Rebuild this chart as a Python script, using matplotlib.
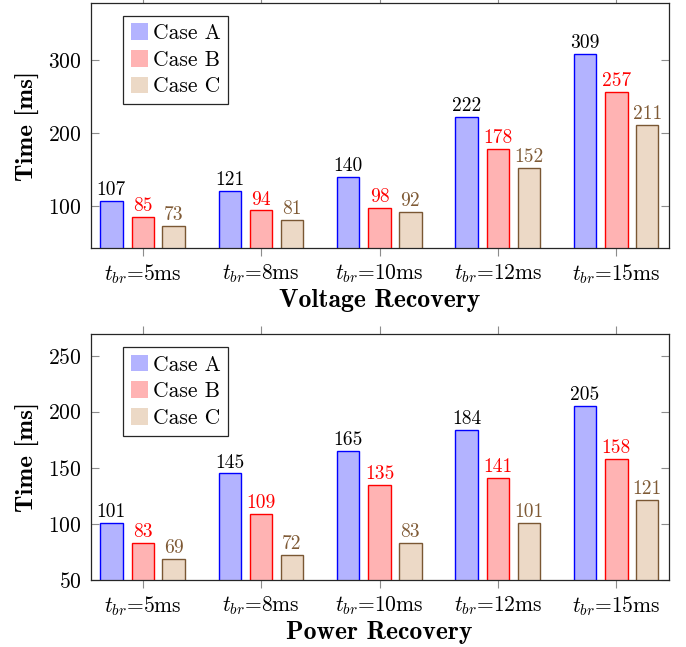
import numpy as np
import matplotlib
matplotlib.use("Agg")
import matplotlib.pyplot as plt

plt.rcParams['font.family'] = 'cmr10'
plt.rcParams['mathtext.fontset'] = 'cm'
plt.rcParams['axes.formatter.use_mathtext'] = True

categories = ['$t_{br}$=5ms', '$t_{br}$=8ms', '$t_{br}$=10ms', '$t_{br}$=12ms', '$t_{br}$=15ms']
cases = ['Case A', 'Case B', 'Case C']
voltage = [[107, 121, 140, 222, 309],
           [85, 94, 98, 178, 257],
           [73, 81, 92, 152, 211]]
power = [[101, 145, 165, 184, 205],
         [83, 109, 135, 141, 158],
         [69, 72, 83, 101, 121]]

fills = ['#b3b3ff', '#ffb3b3', '#ecd9c6']
edges = ['#0000ff', '#ff0000', '#7a5733']
label_colors = ['black', '#ff0000', '#7f5a35']
offsets = [-0.265, 0.0, 0.26]

fig = plt.figure(figsize=(6.86, 6.47), dpi=100)
ax1 = fig.add_axes([0.1322, 0.6162, 0.8423, 0.3792])
ax2 = fig.add_axes([0.1322, 0.1036, 0.8423, 0.3797])

x = np.arange(len(categories))


def draw(ax, data, ylim, yticks, xlabel):
    for i, vals in enumerate(data):
        ax.bar(x + offsets[i], vals, width=0.19, color=fills[i], edgecolor=edges[i],
               linewidth=1.0, label=cases[i], zorder=2)
        for xi, v in zip(x, vals):
            ax.annotate(str(v), (xi + offsets[i], v), xytext=(0, 4.2), textcoords='offset points',
                        ha='center', va='baseline', fontsize=14, color=label_colors[i])
    ax.set_xlim(-0.44, 4.44)
    ax.set_ylim(*ylim)
    ax.set_yticks(yticks)
    ax.set_xticks(x)
    ax.set_xticklabels(categories)
    ax.tick_params(axis='x', direction='out', top=True, length=5.8, width=0.8,
                   color='0.55', labelsize=15.5, pad=4.5)
    ax.tick_params(axis='y', direction='in', right=True, length=5.8, width=0.8,
                   color='0.55', labelsize=15.5, pad=6.5)
    for s in ax.spines.values():
        s.set_linewidth(0.9)
        s.set_color('0.15')
    ax.set_ylabel('Time [ms]', fontfamily='cmb10', fontsize=18)
    ax.yaxis.set_label_coords(-0.108, 0.5)
    ax.yaxis.label.set_verticalalignment('center')
    ax.set_xlabel(xlabel, fontfamily='cmb10', fontsize=18.5)
    ax.xaxis.set_label_coords(0.5, -0.213)
    ax.xaxis.label.set_verticalalignment('center')
    leg = ax.legend(loc='upper left', bbox_to_anchor=(0.0564, 0.948), borderaxespad=0,
                    fontsize=15.5, handlelength=0.8, handleheight=0.8, handletextpad=0.22,
                    borderpad=0.36, labelspacing=0.32, fancybox=False, framealpha=1)
    leg.get_frame().set_edgecolor('0.15')
    leg.get_frame().set_linewidth(0.9)
    for h in leg.legend_handles:
        h.set_edgecolor('none')


draw(ax1, voltage, (42, 379), [100, 200, 300], 'Voltage Recovery')
draw(ax2, power, (50, 269), [50, 100, 150, 200, 250], 'Power Recovery')

fig.savefig('out.png', dpi=100)
